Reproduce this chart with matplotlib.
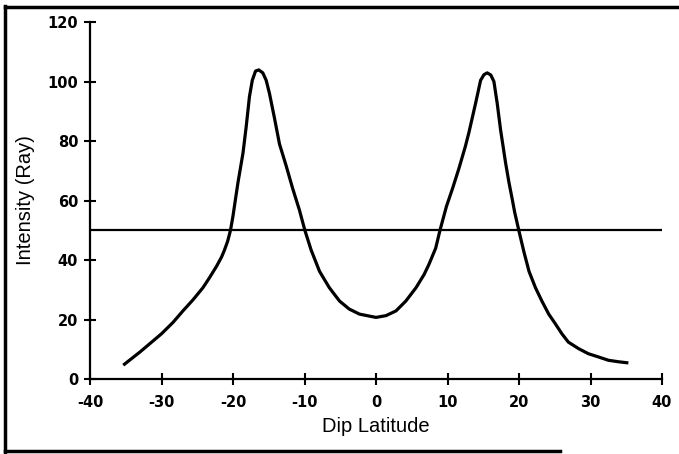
import matplotlib
matplotlib.use("Agg")
import matplotlib.pyplot as plt
from matplotlib.lines import Line2D

# Data
dip_latitude = [-35.35, -33.0, -30.0, -28.4, -27.0, -25.6, -24.2, -23.3, -22.3, -21.6,
                -21.2, -20.75, -20.35, -20.0, -19.65, -19.3, -18.6, -18.15, -17.7, -17.3,
                -16.85, -16.4, -15.83, -15.36, -14.9, -14.2, -13.5, -12.57, -11.65, -10.7,
                -9.95, -9.08, -7.9, -6.53, -5.1, -3.74, -2.3, 0.0, 1.4, 2.8,
                4.17, 5.6, 6.72, 7.4, 8.35, 8.95, 9.85, 10.7, 11.6, 12.5,
                13.0, 13.93, 14.63, 15.1, 15.55, 16.05, 16.49, 16.95, 17.42, 18.12,
                18.6, 19.04, 19.4, 19.97, 20.67, 21.4, 22.3, 23.2, 24.16, 25.1,
                26.0, 26.9, 28.34, 29.7, 31.13, 32.5, 33.9, 35.3]
intensity = [4.65, 9.1, 15.2, 19.0, 22.9, 26.6, 30.7, 34.0, 37.9, 41.0,
             43.3, 46.3, 50.0, 54.8, 60.5, 66.1, 76.0, 84.9, 94.9, 100.4,
             103.5, 103.9, 102.9, 100.4, 96.0, 87.7, 79.0, 71.7, 64.0, 56.7,
             50.0, 43.4, 36.2, 30.7, 26.2, 23.5, 21.8, 20.7, 21.3, 22.9,
             26.2, 30.7, 35.1, 38.5, 44.0, 50.0, 58.0, 64.0, 70.8, 78.2,
             82.9, 92.7, 100.4, 102.3, 102.9, 102.2, 100.0, 92.7, 83.8, 72.7,
             66.0, 60.6, 56.0, 50.0, 42.9, 36.2, 30.7, 26.2, 21.8, 18.5,
             15.2, 12.4, 10.2, 8.5, 7.4, 6.3, 5.8, 5.4]
threshold = 50
x_ticks = [-40, -30, -20, -10, 0, 10, 20, 30, 40]
y_ticks = [0, 20, 40, 60, 80, 100, 120]

plt.rcParams['font.family'] = ['Liberation Sans', 'DejaVu Sans']

W, H = 679, 454
fig = plt.figure(figsize=(W / 100, H / 100), dpi=100)
ax = fig.add_axes([90 / W, 1 - 379 / H, (662 - 90) / W, (379 - 22) / H])

ax.plot(dip_latitude, intensity, color='black', lw=2.3, solid_joinstyle='round',
        solid_capstyle='butt')
ax.axhline(threshold, color='black', lw=1.6)

ax.set_xlim(-40, 40)
ax.set_ylim(0, 120)
ax.set_xticks(x_ticks)
ax.set_yticks(y_ticks)
tick_font = dict(family='DejaVu Sans', fontweight='bold', fontsize=10.5)
ax.set_xticklabels([str(v) for v in x_ticks], **tick_font)
ax.set_yticklabels([str(v) for v in y_ticks], **tick_font)
ax.tick_params(direction='inout', length=9, width=1.5, pad=4)
ax.tick_params(axis='x', pad=7)
for s in ['top', 'right']:
    ax.spines[s].set_visible(False)
for s in ['left', 'bottom']:
    ax.spines[s].set_linewidth(1.6)
ax.patch.set_alpha(0)

ax.set_xlabel('Dip Latitude', fontsize=14.5, labelpad=5)
ax.set_ylabel('Intensity (Ray)', fontsize=14.5, labelpad=9)

# scanned frame around the figure
fig.add_artist(Line2D([5 / W, 5 / W], [1 - 6 / H, 1 - 452 / H], transform=fig.transFigure, color='black', lw=2.5))
fig.add_artist(Line2D([5 / W, 1.0], [1 - 7 / H, 1 - 7 / H], transform=fig.transFigure, color='black', lw=2.5))
fig.add_artist(Line2D([5 / W, 560 / W], [1 - 451 / H, 1 - 451 / H], transform=fig.transFigure, color='black', lw=2.5))

fig.savefig('out.png', dpi=100)
